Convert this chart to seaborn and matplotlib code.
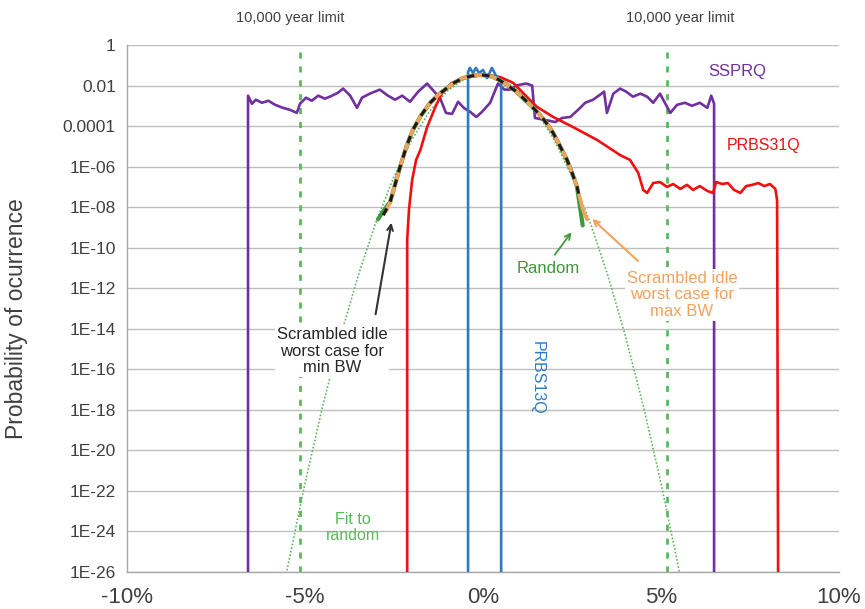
import numpy as np
import pandas as pd
import matplotlib
matplotlib.use("Agg")
import matplotlib.pyplot as plt
from matplotlib.ticker import NullLocator
import seaborn as sns

sns.set_style("white")
plt.rcParams['font.family'] = ['Liberation Sans', 'DejaVu Sans']

# ---- data: x in %, y given as log10(probability) ----
ssprq_x = [-6.60, -6.60, -6.49, -6.38, -6.21, -6.03, -5.84, -5.62, -5.42, -5.23,
           -5.14, -4.97, -4.81, -4.63, -4.44, -4.24, -4.07, -3.93, -3.73, -3.54,
           -3.40, -3.18, -2.90, -2.67, -2.47, -2.27, -2.05, -1.82, -1.57, -1.37,
           -1.21, -1.04, -0.87, -0.70, -0.54, -0.36, -0.19, -0.03, 0.20, 0.42,
           0.60, 0.76, 0.93, 1.21, 1.38, 1.46, 1.75, 2.03, 2.22, 2.45,
           2.67, 2.87, 3.09, 3.29, 3.40, 3.48, 3.66, 3.85, 4.02, 4.21,
           4.42, 4.61, 4.78, 4.97, 5.26, 5.45, 5.67, 5.87, 6.09, 6.30,
           6.41, 6.49, 6.49]
ssprq_log = [-27, -2.5, -2.9, -2.7, -2.85, -2.75, -2.95, -3.1, -3.2, -3.35,
             -2.9, -2.6, -2.75, -2.5, -2.65, -2.5, -2.35, -2.15, -2.5, -3.1,
             -2.6, -2.4, -2.2, -2.5, -2.7, -2.5, -2.8, -2.3, -1.9, -2.3,
             -2.6, -3.35, -3.4, -2.8, -3.1, -3.3, -3.55, -3.3, -2.85, -1.9,
             -2.2, -2.2, -2.0, -1.9, -2.0, -3.6, -3.7, -3.8, -3.6, -3.55,
             -3.2, -2.85, -2.7, -2.45, -2.3, -3.35, -2.4, -2.15, -2.3, -2.55,
             -2.4, -2.55, -2.85, -2.4, -3.35, -2.95, -2.85, -3.0, -2.85, -3.1,
             -2.5, -2.9, -27]

prbs31_x = [-2.13, -2.13, -2.08, -1.99, -1.88, -1.76, -1.57, -1.34, -1.15, -0.87,
            -0.45, -0.09, 0.20, 0.48, 0.85, 1.24, 1.52, 1.97, 2.53, 3.21,
            3.85, 4.13, 4.36, 4.50, 4.61, 4.78, 4.97, 5.17, 5.34, 5.54,
            5.73, 5.90, 6.09, 6.30, 6.46, 6.55, 6.72, 6.88, 7.05, 7.23,
            7.39, 7.56, 7.73, 7.90, 8.06, 8.21, 8.26, 8.29]
prbs31_log = [-27, -9.62, -8.14, -6.66, -5.67, -5.18, -4.05, -3.06, -2.37, -1.87,
              -1.58, -1.5, -1.5, -1.58, -1.87, -2.57, -3.06, -3.55, -4.05, -4.69,
              -5.43, -5.67, -6.31, -7.15, -7.30, -6.81, -6.76, -7.0, -6.86, -7.1,
              -6.9, -7.15, -6.96, -7.2, -7.3, -6.76, -6.86, -6.81, -7.15, -7.3,
              -6.96, -6.9, -6.81, -6.96, -6.86, -7.1, -7.65, -27]

prbs13_x = [-0.42, -0.42, -0.37, -0.28, -0.20, -0.11, 0.0, 0.11, 0.17, 0.25, 0.37, 0.45, 0.51, 0.51]
prbs13_log = [-27, -1.33, -1.13, -1.38, -1.13, -1.38, -1.23, -1.63, -1.43, -1.13, -1.53, -1.68, -1.83, -27]

random_x = [-2.95, -2.80, -2.61, -2.33, -2.15, -1.97, -1.75, -1.49, -1.25, -1.01,
            -0.80, -0.56, -0.30, -0.09, 0.10, 0.28, 0.45, 0.67, 0.90, 1.12,
            1.35, 1.60, 1.80, 1.97, 2.15, 2.36, 2.50, 2.64, 2.80]
random_log = [-8.6, -8.2, -7.75, -6.02, -5.0, -4.19, -3.5, -2.86, -2.45, -2.12,
              -1.85, -1.63, -1.52, -1.48, -1.5, -1.58, -1.72, -1.97, -2.25, -2.61,
              -3.0, -3.45, -3.9, -4.34, -4.95, -5.67, -6.3, -7.0, -8.9]

maxbw_x = [-2.72, -2.61, -2.33, -2.15, -1.97, -1.75, -1.49, -1.25, -1.01,
           -0.80, -0.56, -0.30, -0.09, 0.10, 0.28, 0.45, 0.67, 0.90, 1.12,
           1.35, 1.60, 1.80, 1.97, 2.15, 2.36, 2.50, 2.64, 2.80, 2.92]
maxbw_log = [-8.2, -7.75, -6.02, -5.0, -4.19, -3.5, -2.86, -2.45, -2.12,
             -1.85, -1.63, -1.52, -1.48, -1.5, -1.58, -1.72, -1.97, -2.25, -2.61,
             -3.0, -3.45, -3.9, -4.34, -4.95, -5.67, -6.3, -7.0, -8.1, -8.6]

minbw_x = [-2.80, -2.61, -2.33, -2.15, -1.97, -1.75, -1.49, -1.25, -1.01,
           -0.80, -0.56, -0.30, -0.09, 0.10, 0.28, 0.45, 0.67, 0.90, 1.12,
           1.35, 1.60, 1.80, 1.97, 2.15, 2.36, 2.50, 2.64, 2.72]
minbw_log = [-8.4, -7.75, -6.02, -5.0, -4.19, -3.5, -2.86, -2.45, -2.12,
             -1.85, -1.63, -1.52, -1.48, -1.5, -1.58, -1.72, -1.97, -2.25, -2.61,
             -3.0, -3.45, -3.9, -4.34, -4.95, -5.67, -6.3, -7.0, -7.6]

fit_x = [-5.8, -5.5, -5.0, -4.5, -4.0, -3.5, -3.0, -2.5, -2.0, -1.5, -1.0, -0.5, 0.0,
         0.5, 1.0, 1.5, 2.0, 2.5, 3.0, 3.5, 4.0, 4.5, 5.0, 5.5, 5.8]
fit_log = [-28.6, -25.86, -21.63, -17.79, -14.36, -11.34, -8.71, -6.49, -4.68, -3.27, -2.26, -1.65, -1.45,
           -1.65, -2.26, -3.27, -4.68, -6.49, -8.71, -11.34, -14.36, -17.79, -21.63, -25.86, -28.6]

limit_x = [-5.15, 5.17]

ytick_exp = list(range(0, -27, -2))
ytick_labels = ["1", "0.01", "0.0001", "1E-06", "1E-08", "1E-10", "1E-12", "1E-14",
                "1E-16", "1E-18", "1E-20", "1E-22", "1E-24", "1E-26"]
xtick_vals = [-10, -5, 0, 5, 10]
xtick_labels = ["-10%", "-5%", "0%", "5%", "10%"]

# ---- colours ----
C_PURPLE = "#7030A0"
C_RED = "#F01010"
C_BLUE = "#2E7BC4"
C_GREEN = "#3C9A3C"
C_LGREEN = "#5DB85D"
C_ORANGE = "#F2A25E"
C_BLACK = "#1A1A1A"

fig = plt.figure(figsize=(8.65, 6.09), dpi=100)
ax = fig.add_axes([0.1468, 0.0608, 0.8232, 0.8653])


def draw(x, logy, z, **kw):
    df = pd.DataFrame({"x": x, "y": 10.0 ** np.array(logy, dtype=float)})
    sns.lineplot(data=df, x="x", y="y", sort=False, estimator=None, ax=ax,
                 zorder=z, **kw)


draw(fit_x, fit_log, 2, color=C_LGREEN, lw=1.2, linestyle=(0, (1, 1.2)))
for lx in limit_x:
    ax.axvline(lx, color=C_LGREEN, lw=2.0, linestyle=(0, (2.2, 2.8)), zorder=2.5)
draw(ssprq_x, ssprq_log, 3, color=C_PURPLE, lw=1.9)
draw(prbs31_x, prbs31_log, 3.2, color=C_RED, lw=1.9)
draw(prbs13_x, prbs13_log, 3.4, color=C_BLUE, lw=1.9)
draw(random_x, random_log, 4, color=C_GREEN, lw=3.0)
draw(maxbw_x, maxbw_log, 4.2, color=C_ORANGE, lw=2.6)
draw(minbw_x, minbw_log, 4.4, color=C_BLACK, lw=2.2, linestyle=(0, (2.5, 2.5)))

ax.set_yscale("log")
ax.set_xlim(-10, 10)
ax.set_ylim(1e-26, 1)
ax.set_yticks([10.0 ** e for e in ytick_exp])
ax.set_yticklabels(ytick_labels)
ax.yaxis.set_minor_locator(NullLocator())
ax.set_xticks(xtick_vals)
ax.set_xticklabels(xtick_labels)
ax.set_xlabel("")
ax.set_ylabel("Probability of ocurrence", fontsize=16.5, color="#404040")
ax.yaxis.set_label_coords(-0.139, 0.48)
ax.grid(axis="y", color="#BFBFBF", lw=1.0, zorder=0)
ax.set_axisbelow(True)
for s in ["top", "right"]:
    ax.spines[s].set_visible(False)
for s in ["left", "bottom"]:
    ax.spines[s].set_color("#A6A6A6")
    ax.spines[s].set_linewidth(1.0)
ax.tick_params(axis="y", length=5, color="#A6A6A6", labelcolor="#404040", labelsize=12.5, pad=3)
ax.tick_params(axis="x", length=5, color="#A6A6A6", labelcolor="#404040", labelsize=16, pad=6)

# ---- annotations ----
box = dict(facecolor="white", edgecolor="none", pad=1.5)
for lx in [-5.42, 5.53]:
    ax.text(lx, 1.051, "10,000 year limit", transform=ax.get_xaxis_transform(),
            ha="center", va="center", fontsize=10.5, color="#404040", clip_on=False)
ax.text(7.13, 10 ** -1.33, "SSPRQ", color=C_PURPLE, fontsize=12, ha="center", va="center")
ax.text(7.87, 10 ** -4.98, "PRBS31Q", color=C_RED, fontsize=11.5, ha="center", va="center")
ax.text(1.52, 10 ** -16.4, "PRBS13Q", color=C_BLUE, fontsize=11.5, ha="center", va="center",
        rotation=270)
ax.text(-4.24, 10 ** -15.1, "Scrambled idle\nworst case for\nmin BW", color="#262626",
        fontsize=12, ha="center", va="center", linespacing=1.1, bbox=box, zorder=6)
ax.text(1.83, 10 ** -11.05, "Random", color=C_GREEN, fontsize=12, ha="center", va="center",
        zorder=6)
ax.text(5.59, 10 ** -12.33, "Scrambled idle\nworst case for\nmax BW", color=C_ORANGE,
        fontsize=12, ha="center", va="center", linespacing=1.1, bbox=box, zorder=6)
ax.text(-3.65, 10 ** -23.8, "Fit to\nrandom", color=C_LGREEN, fontsize=11.5, ha="center",
        va="center", linespacing=1.1, zorder=6)

ax.annotate("", xy=(-2.56, 10 ** -8.63), xytext=(-3.03, 10 ** -13.42),
            arrowprops=dict(arrowstyle="->", color="#333333", lw=1.5), zorder=7)
ax.annotate("", xy=(2.53, 10 ** -9.13), xytext=(1.97, 10 ** -10.46),
            arrowprops=dict(arrowstyle="->", color=C_GREEN, lw=1.3), zorder=7)
ax.annotate("", xy=(3.01, 10 ** -8.49), xytext=(4.41, 10 ** -10.75),
            arrowprops=dict(arrowstyle="->", color=C_ORANGE, lw=1.5), zorder=7)

fig.savefig("out.png", dpi=100)
